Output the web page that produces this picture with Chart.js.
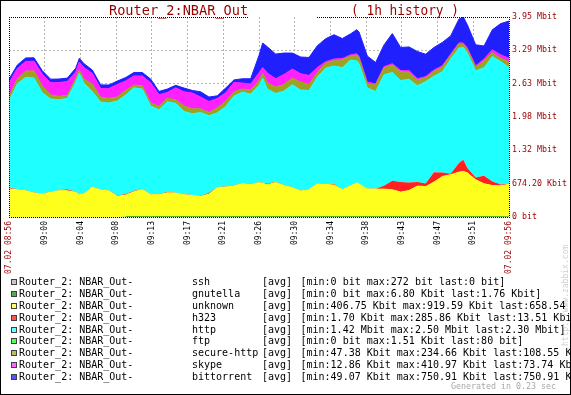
<!DOCTYPE html>
<html><head><meta charset="utf-8">
<script src="https://cdn.jsdelivr.net/npm/chart.js@4/dist/chart.umd.min.js"></script>
<style>html,body{margin:0;padding:0;background:#fff;overflow:hidden}canvas{display:block}</style>
</head><body>
<canvas id="c" width="571" height="395"></canvas>
<script>
// ---- data (Mbit/s), time in minutes after 08:56 ----
const minutes = [0,1,2,3,4,5,6,7,8,8.44,9,10,11,12,13,14,15,16,17,18,19,20,21,22,23,24,25,26,27,28,29,30,30.44,31,32,33,34,35,36,37,38,39,40,41,41.72,42,43,44,45,46,47,48,49,50,51,52,53,54,54.52,55,56,57,58,59,60];
const ssh = minutes.map(() => 0);
const gnutella = [0,0,0,0,0,0,0,0,0,0, 0,0,0,0,0,0.004,0.005,0.004,0.004,0.005, 0.004,0.004,0.005,0.004,0.004,0.005,0.004,0.004,0.005,0.004, 0.004,0.005,0.004,0.004,0.005,0.004,0.004,0.005,0.004,0.004, 0.005,0.004,0.004,0.005,0.004,0.004,0.005,0.004,0.004,0.005, 0.004,0.004,0.005,0.004,0.004,0.005,0.004,0.004,0.005,0.004, 0.004,0.005,0.004,0.003,0.0017];
const unknown = [0.553,0.539,0.519,0.474,0.454,0.488,0.519,0.519,0.488,0.440,
 0.460,0.587,0.533,0.514,0.409,0.429,0.494,0.539,0.435,0.435,
 0.474,0.468,0.435,0.421,0.401,0.448,0.579,0.587,0.606,0.658,
 0.638,0.672,0.662,0.632,0.677,0.618,0.573,0.508,0.533,0.652,
 0.638,0.626,0.533,0.612,0.666,0.646,0.547,0.547,0.547,0.533,
 0.488,0.519,0.606,0.598,0.685,0.796,0.830,0.883,0.895,0.869,
 0.731,0.652,0.618,0.612,0.643];
const h323 = [0.020,0.014,0.010,0.010,0.010,0.010,0.010,0.030,0.010,0.010,
 0.010,0.010,0.010,0.010,0.016,0.020,0.020,0.010,0.010,0.010,
 0.020,0.006,0.010,0.010,0.010,0.026,0.010,0.010,0.010,0.010,
 0.010,0.010,0.010,0.020,0.014,0.010,0.010,0.010,0.010,0.010,
 0.010,0.020,0.004,0.004,0.004,0.004,0.004,0.006,0.065,0.178,
 0.197,0.158,0.079,0.059,0.197,0.079,0.020,0.178,0.231,0.093,
 0.045,0.158,0.079,0.026,0.013];
const http = [1.718,2.080,2.230,2.261,1.991,1.833,1.787,1.795,2.163,2.388,
 2.171,1.878,1.728,1.728,1.866,1.955,2.034,1.973,1.742,1.669,
 1.778,1.768,1.635,1.604,1.649,1.521,1.465,1.582,1.768,1.795,
 1.776,1.912,2.068,1.870,1.744,1.855,2.024,1.985,1.951,2.097,
 2.289,2.331,2.411,2.479,2.411,2.372,1.991,1.922,2.192,2.139,
 2.007,2.042,1.902,2.015,1.896,1.989,2.265,2.271,2.218,2.271,
 2.107,2.133,2.469,2.429,2.300];
const ftp = minutes.map((t) => (t === 60 ? 0.0001 : 0));
const secureHttp = [0.085,0.093,0.119,0.144,0.132,0.079,0.067,0.059,0.065,0.065,
 0.085,0.146,0.093,0.093,0.079,0.091,0.053,0.065,0.065,0.065,
 0.069,0.069,0.107,0.099,0.073,0.065,0.099,0.099,0.085,0.059,
 0.079,0.099,0.099,0.124,0.126,0.130,0.132,0.158,0.119,0.091,
 0.095,0.109,0.152,0.079,0.113,0.119,0.085,0.126,0.138,0.146,
 0.172,0.138,0.113,0.073,0.093,0.093,0.073,0.079,0.061,0.073,
 0.069,0.138,0.073,0.067,0.106];
const skype = [0.271,0.207,0.194,0.188,0.233,0.241,0.273,0.273,0.138,0.158,
 0.227,0.213,0.174,0.194,0.247,0.188,0.180,0.194,0.395,0.231,
 0.113,0.237,0.282,0.310,0.231,0.217,0.184,0.172,0.184,0.119,
 0.119,0.152,0.111,0.192,0.164,0.198,0.178,0.164,0.178,0.099,
 0.030,0.030,0.026,0.024,0.026,0.028,0.032,0.026,0.024,0.028,
 0.026,0.030,0.026,0.024,0.028,0.026,0.024,0.026,0.026,0.028,
 0.030,0.034,0.059,0.065,0.072];
const bittorrent = [0.073,0.069,0.069,0.067,0.069,0.071,0.069,0.067,0.073,0.073,
 0.075,0.069,0.071,0.069,0.069,0.067,0.069,0.069,0.073,0.065,
 0.069,0.049,0.073,0.051,0.105,0.087,0.053,0.093,0.050,0.085,
 0.105,0.342,0.482,0.519,0.488,0.423,0.316,0.330,0.356,0.429,
 0.454,0.480,0.395,0.415,0.474,0.482,0.514,0.421,0.429,0.593,
 0.454,0.468,0.539,0.442,0.446,0.460,0.361,0.468,0.514,0.460,
 0.415,0.257,0.395,0.618,0.733];

const yMax = 3.95;
const yTickLabels = ['0 bit','674.20 Kbit','1.32 Mbit','1.98 Mbit','2.63 Mbit','3.29 Mbit','3.95 Mbit'];
const xTickLabels = ['07.02 08:56','09:00','09:04','09:08','09:13','09:17','09:21','09:26','09:30','09:34','09:38','09:43','09:47','09:51','07.02 09:56'];
const seriesNames = ['ssh','gnutella','unknown','h323','http','ftp','secure-http','skype','bittorrent'];
const seriesValues = [ssh, gnutella, unknown, h323, http, ftp, secureHttp, skype, bittorrent];
const legendStats = [
 '[min:0 bit max:272 bit last:0 bit]',
 '[min:0 bit max:6.80 Kbit last:1.76 Kbit]',
 '[min:406.75 Kbit max:919.59 Kbit last:658.54 Kbit]',
 '[min:1.70 Kbit max:285.86 Kbit last:13.51 Kbit]',
 '[min:1.42 Mbit max:2.50 Mbit last:2.30 Mbit]',
 '[min:0 bit max:1.51 Kbit last:80 bit]',
 '[min:47.38 Kbit max:234.66 Kbit last:108.55 Kbit]',
 '[min:12.86 Kbit max:410.97 Kbit last:73.74 Kbit]',
 '[min:49.07 Kbit max:750.91 Kbit last:750.91 Kbit]'
];
const titleMain = 'Router_2:NBAR_Out';
const titlePeriod = '( 1h history )';

// ---- styles ----
const fillColors = ['#c0c0c0','#1ea01e','#ffff1e','#ff2020','#1effff','#20ff20','#a0a022','#ff20ff','#2020ff'];
const legendColors = ['#c8c8c8','#55aa55','#ffff66','#ff5555','#66ffff','#55ff55','#bbbb66','#ff66ff','#5555ff'];
const borderWidths = [0,1,1,0,1,0,1,1,1];
const DARKRED = '#990000';
const MONO = '"DejaVu Sans Mono", monospace';

const zbx = {
  id: 'zbx',
  beforeDraw(chart) {
    const c = chart.ctx;
    c.save(); c.fillStyle = '#fff'; c.fillRect(0, 0, chart.width, chart.height); c.restore();
  },
  afterDatasetsDraw(chart) {
    const c = chart.ctx, a = chart.chartArea;
    c.save();
    c.strokeStyle = '#000'; c.lineWidth = 1; c.setLineDash([1, 1]);
    c.beginPath();
    c.moveTo(a.left + 0.5, a.top); c.lineTo(a.left + 0.5, a.bottom + 1);
    c.moveTo(a.right + 0.5, a.top); c.lineTo(a.right + 0.5, a.bottom + 1);
    c.moveTo(a.left, a.bottom + 0.5); c.lineTo(a.right + 1, a.bottom + 0.5);
    c.moveTo(a.left, a.top + 0.5); c.lineTo(248, a.top + 0.5);
    c.moveTo(317, a.top + 0.5); c.lineTo(a.right + 1, a.top + 0.5);
    c.stroke();
    c.setLineDash([]);
    // title
    c.fillStyle = DARKRED; c.font = '13.6px ' + MONO; c.textBaseline = 'alphabetic'; c.textAlign = 'left';
    c.fillText(titleMain, 109, 14.5);
    c.fillText(titlePeriod, 351, 14.5, 108);
    c.restore();
  },
  afterDraw(chart) {
    const c = chart.ctx;
    c.save();
    // watermark
    c.save();
    c.translate(566, 346); c.rotate(-Math.PI / 2);
    c.fillStyle = '#d0d0d0'; c.font = '8px ' + MONO; c.textBaseline = 'middle'; c.textAlign = 'left';
    c.fillText('http://www.zabbix.com', 0, 0);
    c.restore();
    // legend
    c.font = '10px ' + MONO; c.textBaseline = 'middle'; c.textAlign = 'left';
    seriesNames.forEach((n, k) => {
      const y = Math.round(282 + k * 11.875);
      c.fillStyle = legendColors[k]; c.fillRect(11, y - 3, 6, 6);
      c.strokeStyle = '#404040'; c.lineWidth = 1; c.strokeRect(11.5, y - 2.5, 5, 5);
      c.fillStyle = '#000';
      c.fillText('Router_2: NBAR_Out-', 19, y);
      c.fillText(n, 192, y);
      c.fillText('[avg]', 262, y);
      c.fillText(legendStats[k], 300.5, y);
    });
    c.fillStyle = '#a8a8a8'; c.font = '8.3px ' + MONO;
    c.fillText('Generated in 0.23 sec', 451, 386.5);
    // frame
    c.strokeStyle = '#000'; c.lineWidth = 1; c.strokeRect(0.5, 0.5, 570, 394);
    c.restore();
  }
};

const lastX = xTickLabels.length - 1, lastY = yTickLabels.length - 1;
new Chart(document.getElementById('c'), {
  type: 'line',
  data: {
    datasets: seriesNames.map((n, k) => ({
      label: n,
      data: minutes.map((t, i) => ({ x: t, y: seriesValues[k][i] })),
      backgroundColor: fillColors[k],
      borderColor: fillColors[k],
      borderWidth: borderWidths[k],
      fill: k === 0 ? 'origin' : '-1',
      pointRadius: 0, tension: 0,
      segment: k === 1 ? { borderColor: ctx => (ctx.p0.parsed.y > 0 && ctx.p1.parsed.y > 0) ? fillColors[1] : 'rgba(0,0,0,0)' } : undefined
    }))
  },
  options: {
    responsive: false, animation: false, devicePixelRatio: 1, events: [],
    layout: { padding: { left: 9, top: 17, right: 0, bottom: 0 } },
    plugins: { legend: { display: false }, title: { display: false }, tooltip: { enabled: false } },
    scales: {
      x: {
        type: 'linear', min: 0, max: 60, position: 'bottom',
        afterBuildTicks: s => { s.ticks = xTickLabels.map((_, i) => ({ value: i * 60 / lastX })); },
        afterFit: s => { s.height = 178; },
        grid: { drawTicks: false, lineWidth: 1, color: ctx => (ctx.index === 0 || ctx.index === lastX) ? 'rgba(0,0,0,0)' : '#b4b4b4' },
        border: { display: false, dash: [2, 2] },
        ticks: {
          autoSkip: false, minRotation: 90, maxRotation: 90, padding: 4,
          font: { family: MONO, size: 8 },
          color: ctx => (ctx.index === 0 || ctx.index === lastX) ? DARKRED : '#000',
          callback: (v, i) => xTickLabels[i]
        }
      },
      y: {
        type: 'linear', position: 'right', stacked: true, min: 0, max: yMax,
        afterBuildTicks: s => { s.ticks = yTickLabels.map((_, k) => ({ value: k * yMax / lastY })); },
        afterFit: s => { s.width = 62; },
        grid: { drawTicks: false, lineWidth: 1, color: ctx => (ctx.index === 0 || ctx.index === lastY) ? 'rgba(0,0,0,0)' : '#b4b4b4' },
        border: { display: false, dash: [2, 2] },
        ticks: {
          autoSkip: false, padding: 3,
          font: { family: MONO, size: 8.3 },
          color: DARKRED,
          callback: (v, i) => yTickLabels[i]
        }
      }
    }
  },
  plugins: [zbx]
});
</script>
</body></html>
